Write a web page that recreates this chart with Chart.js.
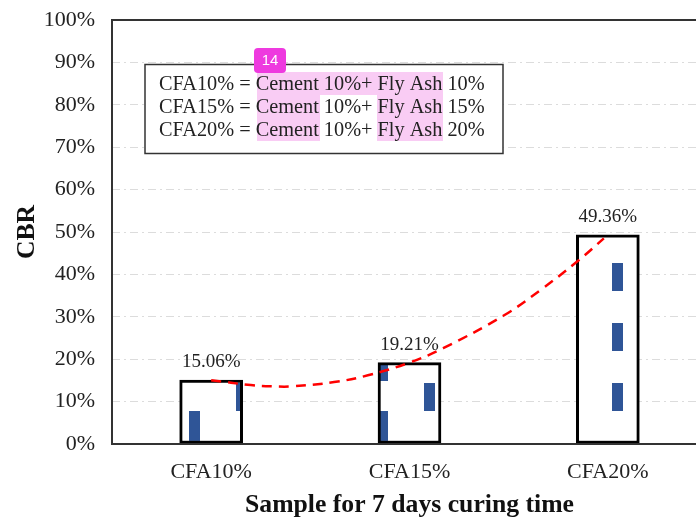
<!DOCTYPE html>
<html lang="en">
  <head>
    <meta charset="UTF-8" />
    <title>CBR for 7 days curing</title>
    <style>
      html, body {
        margin: 0;
        padding: 0;
        background: #fff;
        overflow: hidden;
      }
      /* the plot runs past the right edge of the window, as in the picture */
      #wrap {
        width: 710px;
        height: 517px;
      }
    </style>
  </head>
  <body>
    <div id="wrap"><canvas id="cbrChart" width="710" height="517"></canvas></div>

    <script src="https://cdn.jsdelivr.net/npm/chart.js@4.4.0/dist/chart.umd.min.js"></script>
    <script>
      const categories = ["CFA10%", "CFA15%", "CFA20%"];
      const cbrValues = [15.06, 19.21, 49.36];
      const yTicks = [0, 10, 20, 30, 40, 50, 60, 70, 80, 90, 100];
      // dashed red trend line (x in category units)
      const trendX = [0, 0.2, 0.31, 0.41, 0.62, 0.79, 1, 1.17, 1.475, 1.66, 1.85, 1.98];
      const trendY = [15.06, 13.9, 13.6, 13.6, 14.6, 16.2, 19.2, 22.6, 30.3, 36.3, 43.2, 48.5];
      const noteLines = [
        "CFA10% = Cement 10%+ Fly Ash 10%",
        "CFA15% = Cement 10%+ Fly Ash 15%",
        "CFA20% = Cement 10%+ Fly Ash 20%",
      ];

      const SERIF = '"Liberation Serif", serif';

      // blue dash fill of the bars, tile lines up with the canvas origin
      function makeDashPattern() {
        const tile = document.createElement("canvas");
        tile.width = 94;
        tile.height = 60;
        const c = tile.getContext("2d");
        c.fillStyle = "#ffffff";
        c.fillRect(0, 0, 94, 60);
        c.fillStyle = "#2f5597";
        c.fillRect(1, 51, 11, 9);
        c.fillRect(1, 0, 11, 21);
        c.fillRect(48, 23, 11, 28);
        return document.createElement("canvas").getContext("2d").createPattern(tile, "repeat");
      }

      const frameAndNote = {
        id: "frameAndNote",
        afterDatasetsDraw(chart) {
          const { ctx, chartArea } = chart;
          ctx.save();
          ctx.strokeStyle = "#333";
          ctx.lineWidth = 2;
          ctx.strokeRect(chartArea.left, chartArea.top, chartArea.right - chartArea.left, chartArea.bottom - chartArea.top);

          // value labels above the bars
          const meta = chart.getDatasetMeta(1);
          ctx.fillStyle = "#222";
          ctx.font = "19px " + SERIF;
          ctx.textAlign = "center";
          ctx.textBaseline = "middle";
          meta.data.forEach((bar, i) => {
            ctx.fillText(cbrValues[i].toFixed(2) + "%", bar.x, bar.y - 18);
          });

          // note box
          ctx.fillStyle = "#fff";
          ctx.fillRect(145, 64.5, 358, 89);
          ctx.strokeStyle = "#333";
          ctx.lineWidth = 1.5;
          ctx.strokeRect(145, 64.5, 358, 89);

          // highlighted words
          ctx.fillStyle = "#f9ccf4";
          ctx.fillRect(257, 72, 186, 23);
          ctx.fillRect(257, 95, 63, 46);
          ctx.fillRect(377, 95, 66, 46);

          ctx.fillStyle = "#222";
          ctx.font = "20.3px " + SERIF;
          ctx.textAlign = "left";
          noteLines.forEach((line, i) => {
            ctx.fillText(line, 159, 85 + i * 22.8);
          });

          // badge
          ctx.fillStyle = "#ee3adf";
          ctx.beginPath();
          ctx.roundRect(254, 48, 32, 25, 4);
          ctx.fill();
          ctx.fillStyle = "#ffffff";
          ctx.font = '15px "Liberation Sans", sans-serif';
          ctx.textAlign = "center";
          ctx.fillText("14", 270, 61);
          ctx.restore();
        },
      };

      new Chart(document.getElementById("cbrChart"), {
        data: {
          labels: categories,
          datasets: [
            {
              type: "line",
              data: trendX.map((x, i) => ({ x: x, y: trendY[i] })),
              xAxisID: "xTrend",
              borderColor: "#ff0000",
              borderWidth: 2.5,
              borderDash: [10, 7],
              pointRadius: 0,
              tension: 0.4,
              order: 0,
            },
            {
              type: "bar",
              data: cbrValues,
              backgroundColor: makeDashPattern(),
              borderColor: "#000000",
              borderWidth: 3,
              borderSkipped: false,
              barThickness: 63,
              grouped: false, // otherwise the extra x axis pushes the bars off centre
              order: 1,
            },
          ],
        },
        options: {
          responsive: false,
          animation: false,
          layout: { padding: { top: 20, left: 0, right: 3, bottom: 0 } },
          plugins: { legend: { display: false }, tooltip: { enabled: false } },
          scales: {
            x: {
              type: "category",
              offset: true,
              grid: { display: false },
              border: { display: false },
              ticks: { color: "#222", padding: 7, maxRotation: 0, font: { family: SERIF, size: 22 } },
              title: {
                display: true,
                text: "Sample for 7 days curing time",
                color: "#111",
                font: { family: SERIF, size: 25.7, weight: "bold" },
                padding: { top: 6, bottom: -4 },
              },
              afterFit(scale) {
                scale.height = 73;
                scale.paddingLeft = 0;
                scale.paddingRight = 0;
              },
            },
            xTrend: { type: "linear", display: false, min: -0.5, max: 2.5 },
            y: {
              min: 0,
              max: 100,
              afterBuildTicks(scale) {
                scale.ticks = yTicks.map((v) => ({ value: v }));
              },
              grid: {
                color: (c) => (c.tick.value === 0 || c.tick.value === 100 ? "transparent" : "#dcdcdc"),
                drawTicks: false,
              },
              border: { display: false, dash: [8, 4, 2, 4] },
              ticks: {
                color: "#222",
                padding: 17,
                font: { family: SERIF, size: 22 },
                callback: (v) => v + "%",
              },
              title: {
                display: true,
                text: "CBR",
                color: "#111",
                font: { family: SERIF, size: 25.7, weight: "bold" },
                padding: { top: 12, bottom: 0 },
              },
              afterFit(scale) {
                scale.width = 112;
                scale.paddingTop = 0;
                scale.paddingBottom = 0;
              },
            },
          },
        },
        plugins: [frameAndNote],
      });
    </script>
  </body>
</html>
